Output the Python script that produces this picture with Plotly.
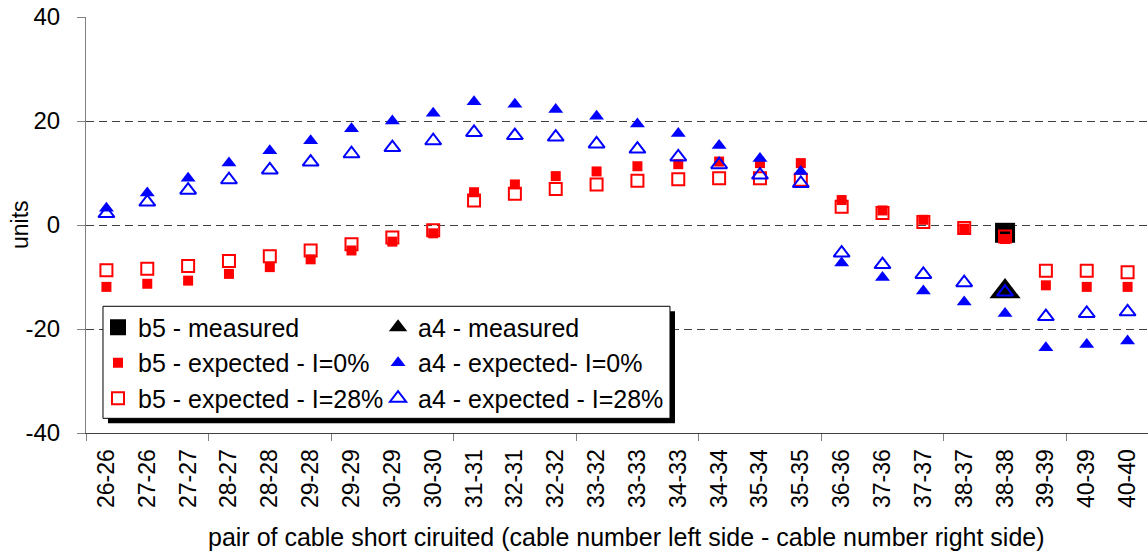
import plotly.graph_objects as go

# ---------------- data ----------------
categories = ["26-26", "27-26", "27-27", "28-27", "28-28", "29-28", "29-29", "30-29", "30-30",
              "31-31", "32-31", "32-32", "33-32", "33-33", "34-33", "34-34", "35-34", "35-35",
              "36-36", "37-36", "37-37", "38-37", "38-38", "39-39", "40-39", "40-40"]

b5_measured = [None, None, None, None, None, None, None, None, None,
               None, None, None, None, None, None, None, None, None,
               None, None, None, None, -1.5, None, None, None]
a4_measured = [None, None, None, None, None, None, None, None, None,
               None, None, None, None, None, None, None, None, None,
               None, None, None, None, -12.8, None, None, None]

b5_exp_0 = [-11.9, -11.3, -10.7, -9.4, -8.1, -6.6, -4.9, -3.2, -1.6,
            6.3, 7.8, 9.4, 10.3, 11.3, 11.7, 12.2, 11.9, 11.9,
            4.8, 2.8, 1.0, -0.7, -2.7, -11.6, -11.9, -11.9]
b5_exp_28 = [-8.7, -8.4, -7.9, -6.9, -6.0, -4.9, -3.7, -2.4, -1.0,
             4.7, 6.0, 6.9, 7.8, 8.5, 8.8, 9.0, 9.0, 8.7,
             3.5, 2.3, 0.6, -0.6, -2.2, -8.8, -8.8, -9.1]
a4_exp_0 = [3.2, 6.15, 9.0, 11.9, 14.3, 16.2, 18.5, 20.0, 21.5,
            23.7, 23.2, 22.2, 20.9, 19.4, 17.6, 15.3, 12.8, 10.3,
            -7.3, -10.1, -12.7, -14.8, -17.0, -23.6, -23.0, -22.3]
a4_exp_28 = [2.2, 4.4, 6.7, 8.7, 10.6, 12.1, 13.7, 14.9, 16.2,
             17.8, 17.2, 16.9, 15.6, 14.6, 13.1, 11.6, 9.6, 8.0,
             -5.4, -7.6, -9.5, -11.1, -12.9, -17.6, -17.0, -16.7]

y_ticks = [-40, -20, 0, 20, 40]
y_tick_labels = ["-40", "-20", "0", "20", "40"]

# ---------------- figure ----------------
FONT = "Liberation Sans, Arial, sans-serif"
RED = "#FF0000"
BLUE = "#0000FF"

x_pos = list(range(len(categories)))

fig = go.Figure()

fig.add_trace(go.Scatter(x=x_pos, y=b5_measured, mode="markers", name="b5 - measured",
                         legend="legend", legendrank=1,
                         marker=dict(symbol="square", size=20, color="black")))
fig.add_trace(go.Scatter(x=x_pos, y=a4_measured, mode="markers", name="a4 - measured",
                         legend="legend2", legendrank=1,
                         marker=dict(symbol="triangle-up", size=27, color="black")))
fig.add_trace(go.Scatter(x=x_pos, y=b5_exp_28, mode="markers", name="b5 - expected - I=28%",
                         legend="legend", legendrank=3,
                         marker=dict(symbol="square-open", size=12, color=RED,
                                     line=dict(width=2, color=RED))))
fig.add_trace(go.Scatter(x=x_pos, y=b5_exp_0, mode="markers", name="b5 - expected - I=0%",
                         legend="legend", legendrank=2,
                         marker=dict(symbol="square", size=10, color=RED)))
fig.add_trace(go.Scatter(x=x_pos, y=a4_exp_0, mode="markers", name="a4 - expected- I=0%",
                         legend="legend2", legendrank=2,
                         marker=dict(symbol="triangle-up", size=13, color=BLUE)))
fig.add_trace(go.Scatter(x=x_pos, y=a4_exp_28, mode="markers", name="a4 - expected - I=28%",
                         legend="legend2", legendrank=3,
                         marker=dict(symbol="triangle-up-open", size=14, color=BLUE,
                                     line=dict(width=2, color=BLUE))))

legend_common = dict(bgcolor="rgba(0,0,0,0)", borderwidth=0,
                     font=dict(family=FONT, size=25, color="black"),
                     xanchor="left", yanchor="top", orientation="v",
                     itemclick=False, itemdoubleclick=False, traceorder="normal")

fig.update_layout(
    width=1148, height=554,
    margin=dict(l=86, r=0, t=17, b=121),
    paper_bgcolor="white", plot_bgcolor="white",
    font=dict(family=FONT, color="black"),
    showlegend=True,
    legend=dict(x=0.0113, y=0.309, **legend_common),
    legend2=dict(x=0.275, y=0.309, **legend_common),
    xaxis=dict(
        range=[-0.5, 25.5], tickmode="array", tickvals=x_pos, ticktext=categories,
        tickangle=-90, ticks="", tickfont=dict(size=23, family=FONT, color="black"),
        ticklabelstandoff=6,
        showline=True, linecolor="#404040", linewidth=1,
        showgrid=False, zeroline=False,
        minor=dict(ticks="outside", ticklen=7, tickcolor="#808080", tickwidth=1,
                   tick0=-0.5, dtick=3, showgrid=False),
    ),
    yaxis=dict(
        range=[-40, 40], tickmode="array", tickvals=y_ticks, ticktext=y_tick_labels,
        ticks="outside", ticklen=8, tickcolor="#808080",
        tickfont=dict(size=24, family=FONT, color="black"),
        ticklabelstandoff=12,
        showline=True, linecolor="#808080", linewidth=1,
        showgrid=True, gridcolor="#404040", gridwidth=1, griddash="8px,5px",
        zeroline=False,
    ),
    annotations=[
        dict(text="pair of cable short ciruited (cable number left side - cable number right side)",
             xref="paper", yref="paper", x=0.5094, y=-0.2507, xanchor="center", yanchor="middle",
             showarrow=False, font=dict(size=25, family=FONT, color="black")),
        dict(text="units", xref="paper", yref="paper", x=-0.0621, y=0.5, textangle=-90,
             xanchor="center", yanchor="middle", showarrow=False,
             font=dict(size=23, family=FONT, color="black")),
    ],
    shapes=[
        dict(type="rect", xref="paper", yref="paper", x0=0.0207, x1=0.5546, y0=0.0233, y1=0.2925,
             fillcolor="black", line=dict(width=0), layer="above"),
        dict(type="rect", xref="paper", yref="paper", x0=0.016, x1=0.5499, y0=0.0353, y1=0.3046,
             fillcolor="white", line=dict(width=1, color="black"), layer="above"),
    ],
)

fig.write_html("out.html")
